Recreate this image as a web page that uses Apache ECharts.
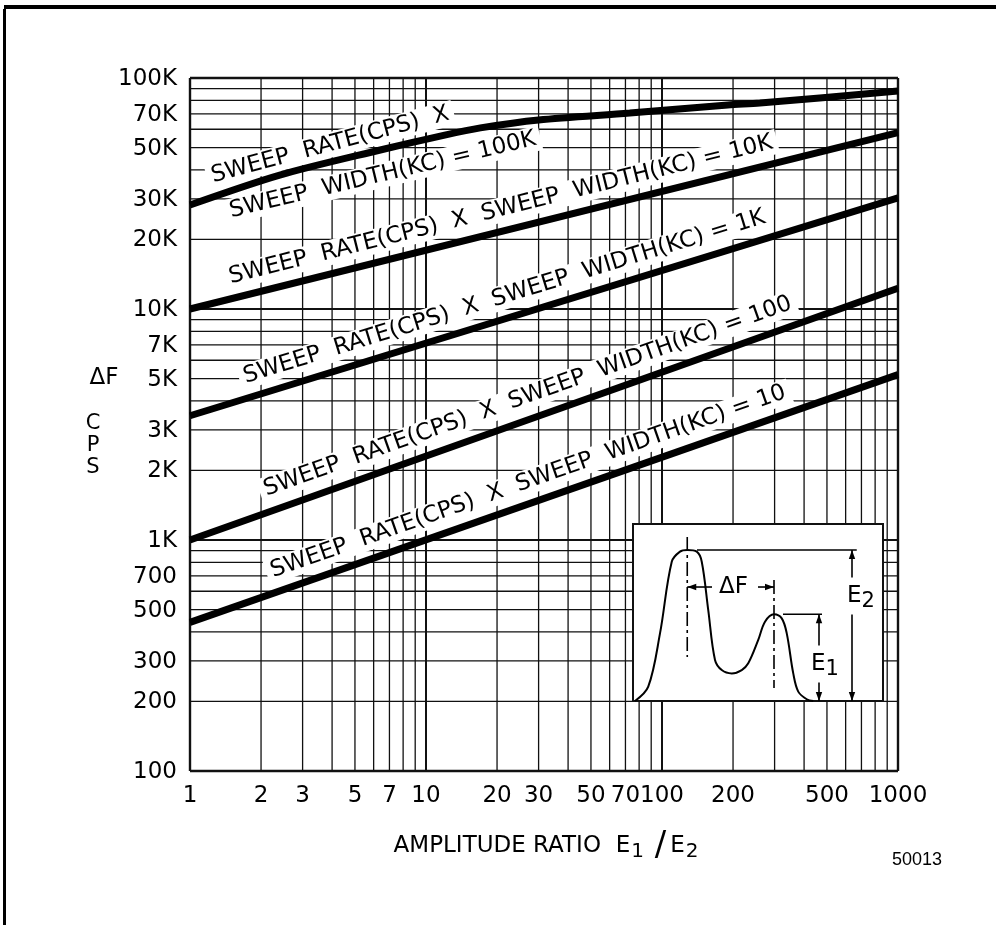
<!DOCTYPE html>
<html>
<head>
<meta charset="utf-8">
<script src="https://cdn.jsdelivr.net/npm/echarts@6/dist/echarts.min.js"></script>
<style>
  html, body { margin: 0; padding: 0; background: #fff; }
  #chart { width: 996px; height: 925px; }
</style>
</head>
<body>
<div id="chart"></div>
<script>
const FONT = '"DejaVu Sans", "Liberation Sans", sans-serif';
const X_MIN = 1, X_MAX = 1000, Y_MIN = 100, Y_MAX = 100000;

// log-log rulings
const xGridValues = [1, 2, 3, 4, 5, 6, 7, 8, 9, 10, 20, 30, 40, 50, 60, 70, 80, 90, 100, 200, 300, 400, 500, 600, 700, 800, 900, 1000];
const yGridValues = [100, 200, 300, 400, 500, 600, 700, 800, 900, 1000, 2000, 3000, 4000, 5000, 6000, 7000, 8000, 9000,
  10000, 20000, 30000, 40000, 50000, 60000, 70000, 80000, 90000, 100000];

// tick labels
const xTickValues = [1, 2, 3, 5, 7, 10, 20, 30, 50, 70, 100, 200, 500, 1000];
const xTickLabels = ['1', '2', '3', '5', '7', '10', '20', '30', '50', '70', '100', '200', '500', '1000'];
const yTickValues = [100, 200, 300, 500, 700, 1000, 2000, 3000, 5000, 7000, 10000, 20000, 30000, 50000, 70000, 100000];
const yTickLabels = ['100', '200', '300', '500', '700', '1K', '2K', '3K', '5K', '7K', '10K', '20K', '30K', '50K', '70K', '100K'];

// ΔF (cps) against amplitude ratio E1/E2, one curve per sweep rate × sweep width product
const ratio100K = [1, 2.4, 6.4, 12, 17, 30, 73, 190, 260, 1000];
const deltaF100K = [28200, 38000, 48800, 56600, 60800, 65800, 70500, 76400, 77900, 87800];
const ratio10K = [1, 1000];
const deltaF10K = [10000, 58000];
const ratio1K = [1, 1000];
const deltaF1K = [3450, 30300];
const ratio100 = [1, 1000];
const deltaF100 = [1000, 12300];
const ratio10 = [1, 1000];
const deltaF10 = [440, 5200];

const curveLabels = [
  'SWEEP  RATE(CPS)  X',
  'SWEEP  WIDTH(KC) = 100K',
  'SWEEP  RATE(CPS)  X  SWEEP  WIDTH(KC) = 10K',
  'SWEEP  RATE(CPS)  X  SWEEP  WIDTH(KC) = 1K',
  'SWEEP  RATE(CPS)  X  SWEEP  WIDTH(KC) = 100',
  'SWEEP  RATE(CPS)  X  SWEEP  WIDTH(KC) = 10'
];

// inset sketch: two spectral peaks (relative frequency, relative amplitude)
const insetFreq = [0.8, 6.1, 10.8, 15.5, 18.8, 21.7, 25.5, 27.5, 30.1, 32.8, 35.5, 39.5, 43.5, 46.1, 50.1, 52.8, 56.4, 59.5, 61.5, 64.1, 66.1, 69.5, 72.1];
const insetAmp = [0, 8.1, 38.2, 78.7, 84.4, 85.3, 84.4, 78.7, 51.4, 23.2, 17.5, 15.6, 17.5, 21.3, 34.5, 44.8, 49.0, 46.7, 38.2, 15.6, 5.3, 1.0, 0];

const curves = [
  [ratio100K, deltaF100K],
  [ratio10K, deltaF10K],
  [ratio1K, deltaF1K],
  [ratio100, deltaF100],
  [ratio10, deltaF10]
];

// where each curve caption sits: along which curve, centred at which ratio,
// slope taken between "from" and "to", offset in px above (+) or below (-) the curve
const labelPlacement = [
  { curve: 0, at: 4.1, from: 1.2, to: 14, offset: 17 },
  { curve: 0, at: 6.2, from: 1.4, to: 27, offset: -25 },
  { curve: 1, at: 21.8, from: 1, to: 1000, offset: 21 },
  { curve: 2, at: 22.8, from: 1, to: 1000, offset: 21 },
  { curve: 3, at: 29, from: 1, to: 1000, offset: 22 },
  { curve: 4, at: 29, from: 1, to: 1000, offset: 21 }
];

function valueAt(xs, ys, x) {
  const lx = Math.log10(x);
  for (let i = 0; i < xs.length - 1; i++) {
    const a = Math.log10(xs[i]), b = Math.log10(xs[i + 1]);
    if (lx <= b || i === xs.length - 2) {
      const t = (lx - a) / (b - a);
      const ya = Math.log10(ys[i]), yb = Math.log10(ys[i + 1]);
      return Math.pow(10, ya + t * (yb - ya));
    }
  }
  return ys[ys.length - 1];
}

function isDecade(v) {
  const l = Math.log10(v);
  return Math.abs(l - Math.round(l)) < 1e-9;
}

const chart = echarts.init(document.getElementById('chart'), null, { renderer: 'canvas' });

const curveSeries = curves.map((c, k) => ({
  type: 'line',
  name: curveLabels[k],
  xAxisIndex: 0,
  yAxisIndex: 0,
  z: 3,
  silent: true,
  showSymbol: false,
  symbol: 'none',
  smooth: k === 0 ? 0.3 : false,
  lineStyle: { color: '#000', width: 7, cap: 'butt' },
  data: c[0].map((x, i) => [x, c[1][i]])
}));

function arrowHead(tip, dx, dy) {
  const L = 9, W = 3.2;
  const len = Math.hypot(dx, dy);
  const ux = dx / len, uy = dy / len;
  return {
    type: 'polygon',
    shape: { points: [[tip[0], tip[1]], [tip[0] - ux * L - uy * W, tip[1] - uy * L + ux * W], [tip[0] - ux * L + uy * W, tip[1] - uy * L - ux * W]] },
    style: { fill: '#000' }
  };
}

const option = {
  animation: false,
  backgroundColor: '#fff',
  grid: [
    { left: 190, top: 78, width: 708, height: 693, show: false },
    { left: 633, top: 524, width: 250, height: 177, show: false }
  ],
  xAxis: [
    { type: 'log', logBase: 10, min: X_MIN, max: X_MAX, gridIndex: 0,
      axisLine: { show: false }, axisTick: { show: false }, axisLabel: { show: false }, splitLine: { show: false } },
    { type: 'value', min: 0, max: 100, gridIndex: 1, show: false }
  ],
  yAxis: [
    { type: 'log', logBase: 10, min: Y_MIN, max: Y_MAX, gridIndex: 0,
      axisLine: { show: false }, axisTick: { show: false }, axisLabel: { show: false }, splitLine: { show: false } },
    { type: 'value', min: 0, max: 100, gridIndex: 1, show: false }
  ],
  graphic: [
    { type: 'rect', shape: { x: 4, y: 5, width: 992, height: 4 }, style: { fill: '#000' }, silent: true },
    { type: 'rect', shape: { x: 3, y: 9, width: 3, height: 916 }, style: { fill: '#000' }, silent: true },
    {
      type: 'text', x: 546, y: 846, silent: true,
      style: {
        text: '{t|AMPLITUDE RATIO  E}{s|1}{sl| /}{t|E}{s|2}',
        align: 'center', verticalAlign: 'middle', fill: '#000',
        rich: {
          t: { fontFamily: FONT, fontSize: 23, fill: '#000' },
          s: { fontFamily: FONT, fontSize: 20, fill: '#000', padding: [12, 0, 0, 1] },
          sl: { fontFamily: FONT, fontSize: 34, fill: '#000', padding: [0, 4, 0, 0] }
        }
      }
    },
    { type: 'text', x: 104, y: 378, silent: true,
      style: { text: 'ΔF', font: '23px ' + FONT, fill: '#000', align: 'center', verticalAlign: 'middle' } },
    { type: 'text', x: 93, y: 446, silent: true,
      style: { text: 'C\nP\nS', font: '21px ' + FONT, lineHeight: 22, fill: '#000', align: 'center', verticalAlign: 'middle' } },
    { type: 'text', x: 917, y: 860, silent: true,
      style: { text: '50013', font: '18px "Liberation Sans", sans-serif', fill: '#000', align: 'center', verticalAlign: 'middle' } }
  ],
  series: [
    // rulings
    {
      type: 'custom', coordinateSystem: 'cartesian2d', xAxisIndex: 0, yAxisIndex: 0, z: 1, silent: true,
      data: xGridValues.map(v => [v, Y_MIN, 0]).concat(yGridValues.map(v => [X_MIN, v, 1])),
      renderItem(params, api) {
        const vertical = api.value(2) === 0;
        let p1, p2, v;
        if (vertical) {
          v = api.value(0);
          p1 = api.coord([v, Y_MIN]); p2 = api.coord([v, Y_MAX]);
        } else {
          v = api.value(1);
          p1 = api.coord([X_MIN, v]); p2 = api.coord([X_MAX, v]);
        }
        const edge = vertical ? (v === X_MIN || v === X_MAX) : (v === Y_MIN || v === Y_MAX);
        return {
          type: 'line',
          shape: { x1: p1[0], y1: p1[1], x2: p2[0], y2: p2[1] },
          style: { stroke: '#111', lineWidth: edge ? 2.4 : (isDecade(v) ? 2 : 1.3) }
        };
      }
    },
    // x tick labels
    {
      type: 'custom', coordinateSystem: 'cartesian2d', xAxisIndex: 0, yAxisIndex: 0, z: 2, silent: true,
      data: xTickValues.map((v, i) => [v, Y_MIN, i]),
      renderItem(params, api) {
        const p = api.coord([api.value(0), Y_MIN]);
        return { type: 'text', x: p[0], y: p[1] + 25,
          style: { text: xTickLabels[api.value(2)], font: '23px ' + FONT, fill: '#000', align: 'center', verticalAlign: 'middle' } };
      }
    },
    // y tick labels
    {
      type: 'custom', coordinateSystem: 'cartesian2d', xAxisIndex: 0, yAxisIndex: 0, z: 2, silent: true,
      data: yTickValues.map((v, i) => [X_MIN, v, i]),
      renderItem(params, api) {
        const p = api.coord([X_MIN, api.value(1)]);
        return { type: 'text', x: p[0] - 13, y: p[1] + 1,
          style: { text: yTickLabels[api.value(2)], font: '23px ' + FONT, fill: '#000', align: 'right', verticalAlign: 'middle' } };
      }
    },
    // captions laid along the curves
    {
      type: 'custom', coordinateSystem: 'cartesian2d', xAxisIndex: 0, yAxisIndex: 0, z: 2, silent: true,
      data: labelPlacement.map((d, i) => [d.at, Y_MIN, i]),
      renderItem(params, api) {
        const i = api.value(2);
        const d = labelPlacement[i];
        const xs = curves[d.curve][0], ys = curves[d.curve][1];
        const a = api.coord([d.from, valueAt(xs, ys, d.from)]);
        const b = api.coord([d.to, valueAt(xs, ys, d.to)]);
        const c = api.coord([d.at, valueAt(xs, ys, d.at)]);
        const ang = Math.atan2(a[1] - b[1], b[0] - a[0]);
        const nx = -Math.sin(ang), ny = -Math.cos(ang);
        return {
          type: 'text',
          x: c[0] + nx * d.offset, y: c[1] + ny * d.offset,
          rotation: ang,
          style: { text: curveLabels[i], font: '23px ' + FONT, fill: '#000', align: 'center', verticalAlign: 'middle',
            backgroundColor: '#fff', padding: [1, 5] }
        };
      }
    },
    ...curveSeries,
    // inset panel
    {
      type: 'custom', coordinateSystem: 'cartesian2d', xAxisIndex: 1, yAxisIndex: 1, z: 5, silent: true,
      data: [[50, 50]],
      renderItem(params, api) {
        const p0 = api.coord([0, 0]), p1 = api.coord([100, 100]);
        return { type: 'rect', shape: { x: p0[0], y: p1[1], width: p1[0] - p0[0], height: p0[1] - p1[1] },
          style: { fill: '#fff', stroke: '#111', lineWidth: 2 } };
      }
    },
    {
      type: 'line', xAxisIndex: 1, yAxisIndex: 1, z: 6, silent: true,
      showSymbol: false, symbol: 'none', smooth: 0.35,
      lineStyle: { color: '#000', width: 2 },
      data: insetFreq.map((f, i) => [f, insetAmp[i]])
    },
    // inset dimensioning: centre lines, ΔF, E1, E2
    {
      type: 'custom', coordinateSystem: 'cartesian2d', xAxisIndex: 1, yAxisIndex: 1, z: 7, silent: true,
      data: [[50, 50]],
      renderItem(params, api) {
        const P = (x, y) => api.coord([x, y]);
        const ln = (a, b, extra) => ({ type: 'line', shape: { x1: a[0], y1: a[1], x2: b[0], y2: b[1] },
          style: Object.assign({ stroke: '#000', lineWidth: 1.6 }, extra || {}) });
        const txt = (p, t, rich) => ({ type: 'text', x: p[0], y: p[1],
          style: { text: t, font: '23px ' + FONT, fill: '#000', align: 'center', verticalAlign: 'middle',
            backgroundColor: '#fff', padding: [2, 1], rich: rich } });
        const sub = { e: { fontFamily: FONT, fontSize: 23, fill: '#000' },
          s: { fontFamily: FONT, fontSize: 21, fill: '#000', padding: [12, 0, 0, 0] } };
        const ch = [];
        // centre lines through both peaks
        ch.push(ln(P(21.7, 92.7), P(21.7, 24.9), { lineDash: [14, 4, 3, 4] }));
        ch.push(ln(P(56.4, 68.4), P(56.4, 7.3), { lineDash: [14, 4, 3, 4] }));
        // ΔF
        ch.push(ln(P(31.6, 64.4), P(21.7, 64.4)));
        ch.push(arrowHead(P(21.7, 64.4), -1, 0));
        ch.push(ln(P(50, 64.4), P(56.4, 64.4)));
        ch.push(arrowHead(P(56.4, 64.4), 1, 0));
        // E2
        ch.push(ln(P(25.6, 85.3), P(89.5, 85.3)));
        ch.push(ln(P(87.6, 85.3), P(87.6, 0)));
        ch.push(arrowHead(P(87.6, 85.3), 0, -1));
        ch.push(arrowHead(P(87.6, 0), 0, 1));
        // E1
        ch.push(ln(P(60, 49), P(75.6, 49)));
        ch.push(ln(P(74.4, 49), P(74.4, 0)));
        ch.push(arrowHead(P(74.4, 49), 0, -1));
        ch.push(arrowHead(P(74.4, 0), 0, 1));
        // lettering
        ch.push(txt(P(40.2, 64.4), 'ΔF'));
        ch.push(txt(P(91.2, 59.3), '{e|E}{s|2}', sub));
        ch.push(txt(P(76.8, 20.9), '{e|E}{s|1}', sub));
        return { type: 'group', children: ch };
      }
    }
  ]
};

chart.setOption(option);
</script>
</body>
</html>
